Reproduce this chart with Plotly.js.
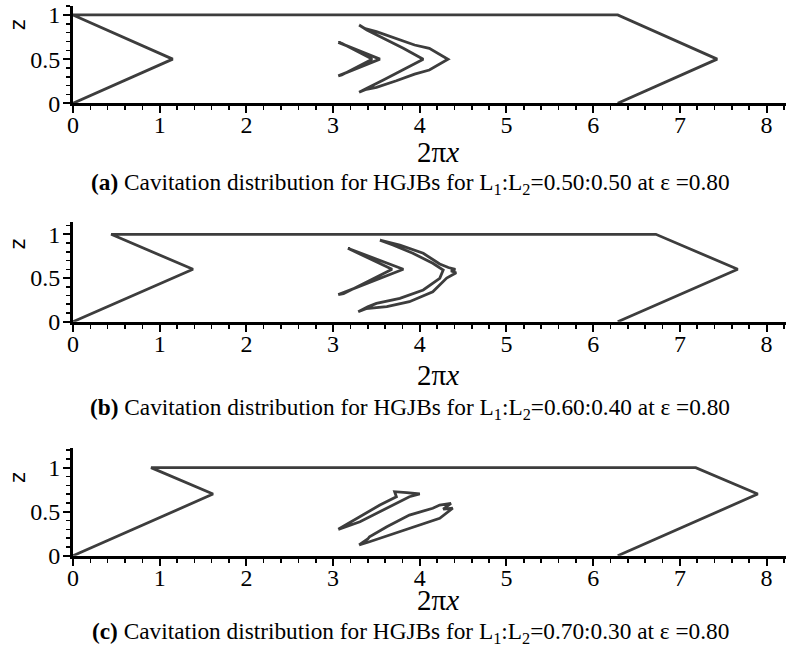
<!DOCTYPE html>
<html>
<head>
<meta charset="utf-8">
<script src="https://cdn.plot.ly/plotly-3.0.1.min.js"></script>
<style>html,body{margin:0;padding:0;background:#fff;}#chart{width:786px;height:648px;}</style>
</head>
<body>
<div id="chart"></div>
<script>
// ---- Panel (a): L1:L2 = 0.50:0.50 ----
const grooveA_x = [0, 1.15, 0, 6.283, 7.43, 6.283];
const grooveA_z = [0, 0.5, 1, 1, 0.5, 0];
const cavA1_x = [3.06, 3.54, 3.06, 3.10, 3.45, 3.10, 3.06];
const cavA1_z = [0.69, 0.50, 0.31, 0.32, 0.50, 0.68, 0.69];
const cavA2_x = [3.30, 3.37, 3.50, 3.73, 3.94, 4.11, 4.325, 4.11, 3.94, 3.73, 3.50, 3.37, 3.30, 3.39, 3.58, 3.81, 4.04, 3.81, 3.58, 3.39, 3.30];
const cavA2_z = [0.887, 0.845, 0.811, 0.736, 0.660, 0.623, 0.498, 0.377, 0.330, 0.255, 0.180, 0.155, 0.125, 0.170, 0.264, 0.377, 0.498, 0.623, 0.736, 0.830, 0.887];

// ---- Panel (b): L1:L2 = 0.60:0.40 ----
const grooveB_x = [0, 1.384, 0.44, 6.723, 7.667, 6.283];
const grooveB_z = [0, 0.6, 1, 1, 0.6, 0];
const cavB1_x = [3.17, 3.81, 3.06, 3.12, 3.68, 3.21, 3.17];
const cavB1_z = [0.84, 0.60, 0.31, 0.32, 0.60, 0.82, 0.84];
const cavB2_x = [3.54, 3.77, 4.04, 4.23, 4.33, 4.41, 4.36, 4.42, 4.31, 4.15, 3.88, 3.62, 3.38, 3.29, 3.40, 3.50, 3.77, 4.04, 4.23, 4.27, 4.15, 3.92, 3.69, 3.54];
const cavB2_z = [0.933, 0.876, 0.783, 0.660, 0.620, 0.600, 0.580, 0.560, 0.500, 0.343, 0.229, 0.172, 0.150, 0.114, 0.170, 0.210, 0.268, 0.363, 0.497, 0.592, 0.668, 0.783, 0.878, 0.933];

// ---- Panel (c): L1:L2 = 0.70:0.30 ----
const grooveC_x = [0, 1.615, 0.9, 7.183, 7.898, 6.283];
const grooveC_z = [0, 0.7, 1, 1, 0.7, 0];
const cavC1_x = [3.06, 3.31, 3.54, 3.73, 3.71, 3.85, 4.00, 3.88, 3.77, 3.54, 3.31, 3.06];
const cavC1_z = [0.300, 0.443, 0.576, 0.670, 0.727, 0.716, 0.701, 0.670, 0.614, 0.500, 0.386, 0.300];
const cavC2_x = [3.30, 3.40, 3.42, 3.62, 3.88, 4.15, 4.23, 4.36, 4.27, 4.38, 4.23, 4.00, 3.73, 3.50, 3.42, 3.30];
const cavC2_z = [0.122, 0.190, 0.216, 0.330, 0.462, 0.539, 0.576, 0.595, 0.530, 0.539, 0.425, 0.349, 0.255, 0.178, 0.159, 0.122];

const xTickVals = [0, 1, 2, 3, 4, 5, 6, 7, 8];
const xTickText = ["0", "1", "2", "3", "4", "5", "6", "7", "8"];
const zTickVals = [0, 0.5, 1];
const zTickText = ["0", "0.5", "1"];
const xLabel = "2π<i>x</i>";
const zLabel = "z";
const captions = [
  "<b>(a)</b> Cavitation distribution for HGJBs for L<sub>1</sub>:L<sub>2</sub>=0.50:0.50 at ε =0.80",
  "<b>(b)</b> Cavitation distribution for HGJBs for L<sub>1</sub>:L<sub>2</sub>=0.60:0.40 at ε =0.80",
  "<b>(c)</b> Cavitation distribution for HGJBs for L<sub>1</sub>:L<sub>2</sub>=0.70:0.30 at ε =0.80"
];

const lineStyle = {color: '#3d3d3d', width: 2.8};
function tr(x, z, ax) {
  return {x: x, y: z, type: 'scatter', mode: 'lines', line: lineStyle,
          xaxis: 'x' + ax, yaxis: 'y' + ax, showlegend: false, hoverinfo: 'skip', cliponaxis: false};
}
const data = [
  tr(grooveA_x, grooveA_z, ''), tr(cavA1_x, cavA1_z, ''), tr(cavA2_x, cavA2_z, ''),
  tr(grooveB_x, grooveB_z, '2'), tr(cavB1_x, cavB1_z, '2'), tr(cavB2_x, cavB2_z, '2'),
  tr(grooveC_x, grooveC_z, '3'), tr(cavC1_x, cavC1_z, '3'), tr(cavC2_x, cavC2_z, '3')
];

const serif = "Liberation Serif";
const tickFont = {family: serif, size: 24, color: '#000'};
function xax(anchor) {
  return {anchor: anchor, range: [0, 8.224], tickmode: 'array', tickvals: xTickVals, ticktext: xTickText,
    showline: true, linecolor: '#000', linewidth: 3, ticks: 'outside', ticklen: 7, tickwidth: 2, tickcolor: '#000',
    minor: {dtick: 0.2, tick0: 0, ticks: 'outside', ticklen: 4, tickwidth: 1.5, tickcolor: '#000', showgrid: false},
    ticklabelstandoff: -9,
    showgrid: false, zeroline: false, tickfont: tickFont, fixedrange: true};
}
function yax(anchor, top, domain) {
  return {anchor: anchor, domain: domain, range: [0, top], tickmode: 'array', tickvals: zTickVals, ticktext: zTickText,
    showline: true, linecolor: '#000', linewidth: 3, ticks: 'outside', ticklen: 7, tickwidth: 2, tickcolor: '#000',
    minor: {dtick: 0.1, tick0: 0, ticks: 'outside', ticklen: 4, tickwidth: 1.5, tickcolor: '#000', showgrid: false},
    ticklabelstandoff: -2,
    showgrid: false, zeroline: false, tickfont: tickFont, fixedrange: true};
}

const annotations = [];
const xLabelY = [1 - 152 / 648, 1 - 375 / 648, 1 - 600 / 648];
const capY = [1 - 184 / 648, 1 - 409 / 648, 1 - 633 / 648];
const axIds = ['', '2', '3'];
for (let i = 0; i < 3; i++) {
  annotations.push({text: xLabel, xref: 'x' + axIds[i], x: 4.21, yref: 'paper', y: xLabelY[i],
    showarrow: false, xanchor: 'center', yanchor: 'middle', font: {family: serif, size: 29, color: '#000'}});
  annotations.push({text: zLabel, xref: 'paper', x: -0.077, yref: 'y' + axIds[i], y: 0.885,
    showarrow: false, textangle: -90, xanchor: 'center', yanchor: 'middle', font: {family: 'DejaVu Sans', size: 21, color: '#000'}});
  annotations.push({text: captions[i], xref: 'paper', x: (410 - 73) / (786 - 73), yref: 'paper', y: capY[i],
    showarrow: false, xanchor: 'center', yanchor: 'middle', font: {family: serif, size: 23.3, color: '#000'}});
}

const layout = {
  width: 786, height: 648,
  margin: {l: 73, r: 0, t: 0, b: 0},
  paper_bgcolor: '#fff', plot_bgcolor: '#fff',
  font: {family: serif, size: 23, color: '#000'},
  showlegend: false,
  xaxis: xax('y'), yaxis: yax('x', 1.105, [0.8406, 0.9912]),
  xaxis2: xax('y2'), yaxis2: yax('x2', 1.14, [0.5035, 0.6573]),
  xaxis3: xax('y3'), yaxis3: yax('x3', 1.22, [0.1424, 0.3082]),
  annotations: annotations
};
Plotly.newPlot('chart', data, layout, {displayModeBar: false, staticPlot: true});
</script>
</body>
</html>
